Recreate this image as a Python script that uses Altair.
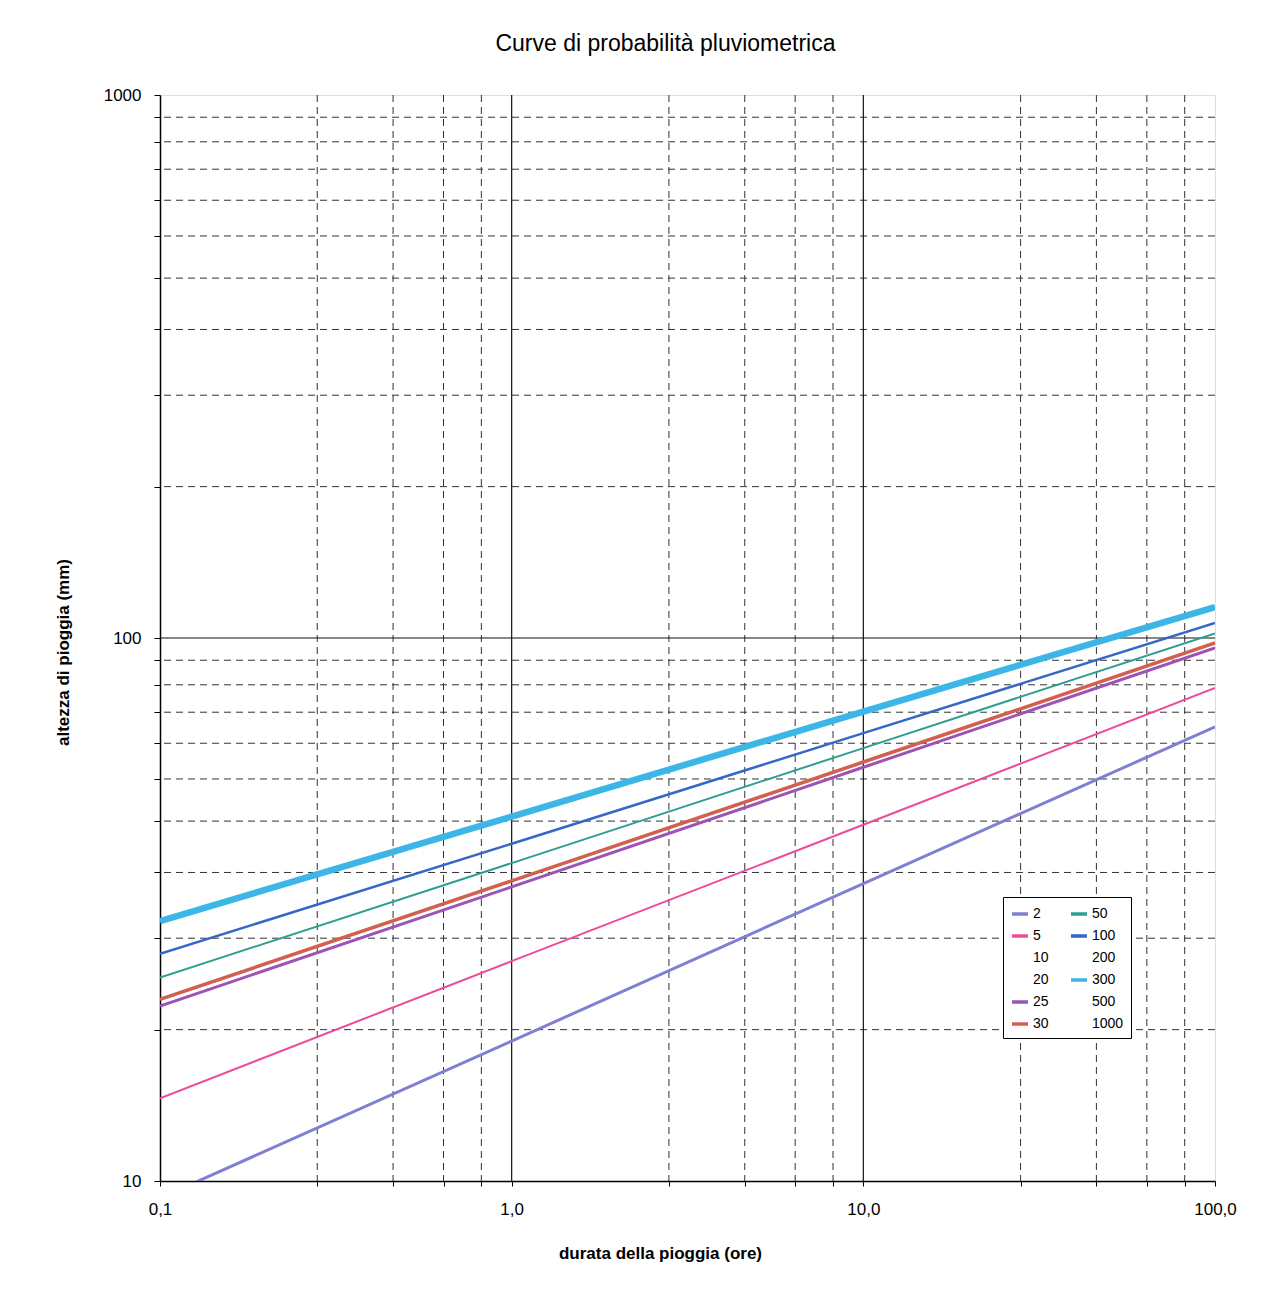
import altair as alt
import pandas as pd

# ---------------- data ----------------
durations = [0.1, 1.0, 10.0, 100.0]          # durata (ore)

h_T2 = [9.3, 18.1, 35.3, 68.6]
h_T5 = [14.2, 25.4, 45.3, 80.9]
h_T25 = [21.0, 34.8, 57.8, 95.9]
h_T30 = [21.6, 35.7, 59.1, 97.9]
h_T50 = [23.7, 38.5, 62.7, 102.0]
h_T100 = [26.2, 41.8, 66.8, 106.6]
h_T300 = [30.1, 46.9, 73.2, 114.0]

series = {"2": h_T2, "5": h_T5, "25": h_T25, "30": h_T30,
          "50": h_T50, "100": h_T100, "300": h_T300}
line_widths = {"2": 3, "5": 2, "25": 3, "30": 3.5, "50": 2, "100": 2.5, "300": 6.5}

# legend entries (the 2-column legend is filled column by column)
legend_order = ["2", "5", "10", "20", "25", "30", "50", "100", "200", "300", "500", "1000"]
legend_colors = ["#7f80d4", "#ee4a9c", "#ffffff", "#ffffff", "#9c52b6", "#d2604e",
                 "#2e9e90", "#3566c8", "#ffffff", "#3cb6e6", "#ffffff", "#ffffff"]

# gridlines (Excel minor units: 1.8 per decade on x, 0.9 per decade on y)
x_major = [1.0, 10.0]
x_minor = [0.28, 0.46, 0.64, 0.82, 2.8, 4.6, 6.4, 8.2, 28.0, 46.0, 64.0, 82.0]
y_major = [100.0]
y_minor = [19, 28, 37, 46, 55, 64, 73, 82, 91,
           190, 280, 370, 460, 550, 640, 730, 820, 910]
x_ticks = [0.1] + x_minor[:4] + [1.0] + x_minor[4:8] + [10.0] + x_minor[8:] + [100.0]
y_ticks = [10] + y_minor[:9] + [100] + y_minor[9:] + [1000]

# ---------------- tables ----------------
rows = []
for T, vals in series.items():
    for t, h in zip(durations, vals):
        rows.append({"t": t, "h": h, "T": T, "w": line_widths[T]})
df_lines = pd.DataFrame(rows)
df_xmin = pd.DataFrame({"t": x_minor})
df_xmaj = pd.DataFrame({"t": x_major})
df_ymin = pd.DataFrame({"h": y_minor})
df_ymaj = pd.DataFrame({"h": y_major})

FONT = "Liberation Sans"

xscale = alt.Scale(type="log", domain=[0.1, 100], nice=False)
yscale = alt.Scale(type="log", domain=[10, 1000], nice=False)

is_decade = "abs(log(datum.value)/log(10) - round(log(datum.value)/log(10))) < 0.000001"
xaxis = alt.Axis(
    title="durata della pioggia (ore)", values=x_ticks,
    labelExpr=f"{is_decade} ? replace(format(datum.value, '.1f'), '.', ',') : ''",
    grid=False, tickSize=5, tickColor="black", domainColor="black", domainWidth=1.5,
    labelFont=FONT, labelFontSize=17, labelColor="black", labelPadding=15,
    labelFlush=False, labelOverlap=False,
    titleFont=FONT, titleFontSize=17, titleFontWeight="bold", titleColor="black",
    titleX=500, titleY=72, titleBaseline="middle",
)
yaxis = alt.Axis(
    title="altezza di pioggia (mm)", values=y_ticks,
    labelExpr=f"{is_decade} ? format(datum.value, 'd') : ''",
    grid=False, tickSize=6, tickColor="black", domainColor="black", domainWidth=1.5,
    labelFont=FONT, labelFontSize=17, labelColor="black", labelPadding=13,
    labelFlush=False, labelOverlap=False,
    titleFont=FONT, titleFontSize=17, titleFontWeight="bold", titleColor="black",
    titleX=-97, titleY=557, titleBaseline="middle", titleAngle=270,
)

grid_minor_x = alt.Chart(df_xmin).mark_rule(
    color="#333333", strokeWidth=1, strokeDash=[7, 5]
).encode(x=alt.X("t:Q", scale=xscale, axis=xaxis))

grid_minor_y = alt.Chart(df_ymin).mark_rule(
    color="#333333", strokeWidth=1, strokeDash=[7, 5]
).encode(y=alt.Y("h:Q", scale=yscale, axis=yaxis))

grid_major_x = alt.Chart(df_xmaj).mark_rule(
    color="#111111", strokeWidth=1.2
).encode(x=alt.X("t:Q", scale=xscale, axis=xaxis))

grid_major_y = alt.Chart(df_ymaj).mark_rule(
    color="#111111", strokeWidth=1.2
).encode(y=alt.Y("h:Q", scale=yscale, axis=yaxis))

legend = alt.Legend(
    title=None, orient="none", legendX=843, legendY=802, columns=2,
    symbolType="stroke", symbolSize=256, symbolStrokeWidth=3.5, gridAlign="each",
    labelFont=FONT, labelFontSize=14, labelColor="black", labelOffset=3,
    strokeColor="black", fillColor="white", padding=7,
    rowPadding=5, columnPadding=15,
)

lines = alt.Chart(df_lines).mark_line(clip=True).encode(
    x=alt.X("t:Q", scale=xscale, axis=xaxis),
    y=alt.Y("h:Q", scale=yscale, axis=yaxis),
    color=alt.Color("T:O", scale=alt.Scale(type="ordinal", domain=legend_order, range=legend_colors),
                    legend=legend),
    strokeWidth=alt.StrokeWidth("w:Q", scale=None, legend=None),
    detail="T:N",
    order=alt.Order("t:Q"),
)

chart = alt.layer(grid_minor_x, grid_minor_y, grid_major_x, grid_major_y, lines).properties(
    width=1055, height=1086,
    title=alt.TitleParams(
        "Curve di probabilità pluviometrica", font=FONT, fontSize=23,
        fontWeight="normal", color="black", anchor="middle", dx=-22, offset=30,
    ),
    autosize=alt.AutoSizeParams(type="none"),
    padding={"left": 160, "top": 95, "right": 64, "bottom": 108},
).configure_view(stroke="black", strokeWidth=1.5).configure(background="white")

chart.save("out.html", embed_options={"renderer": "svg", "actions": False})
